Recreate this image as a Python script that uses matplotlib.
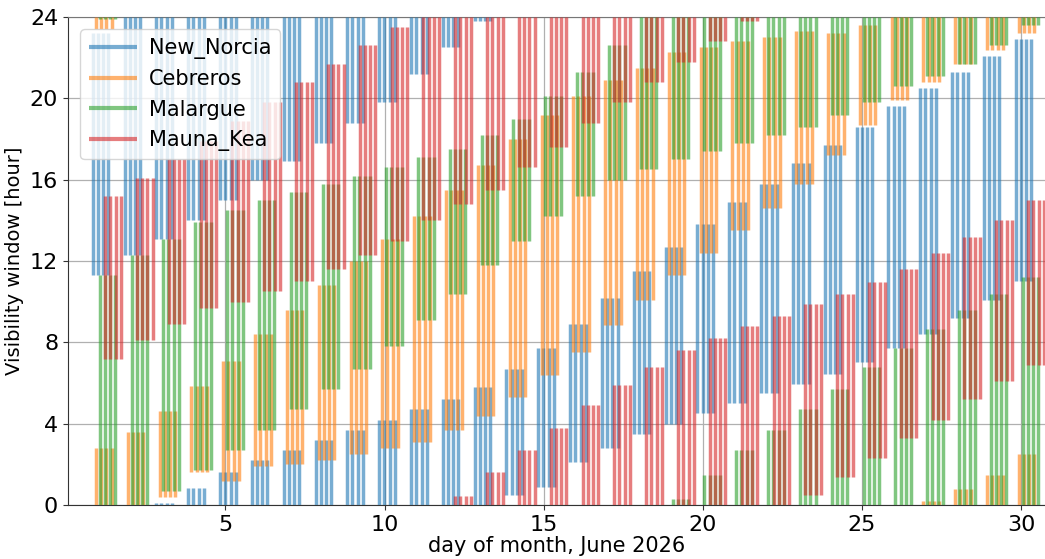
import numpy as np
import matplotlib
matplotlib.use("Agg")
from matplotlib import pyplot as plt

days = np.arange(1, 31)
stations = ['New_Norcia', 'Cebreros', 'Malargue', 'Mauna_Kea']
colors = ['tab:blue', 'tab:orange', 'tab:green', 'tab:red']

# start / end hour of the visibility window for each day of June 2026.
# end < start means the window runs over midnight.
norcia_start = [11.3, 12.3, 13.1, 14.0, 15.0, 16.0, 16.9, 17.8, 18.8, 19.8,
                21.2, 22.5, 23.8, 0.5, 0.9, 2.1, 2.8, 3.5, 4.0, 4.5,
                5.0, 5.5, 5.95, 6.45, 7.05, 7.7, 8.4, 9.2, 10.1, 11.0]
norcia_end = [23.2, 24.0, 0.1, 0.85, 1.6, 2.2, 2.7, 3.2, 3.7, 4.2,
              4.7, 5.2, 5.8, 6.7, 7.7, 8.9, 10.2, 11.5, 12.7, 13.8,
              14.9, 15.8, 16.8, 17.7, 18.6, 19.6, 20.5, 21.3, 22.1, 22.9]

cebreros_start = [23.4, 0.0, 0.4, 1.6, 1.2, 1.9, 2.0, 2.2, 2.5, 2.8,
                  3.1, 3.7, 4.4, 5.3, 6.4, 7.5, 8.85, 10.1, 11.3, 12.4,
                  13.5, 14.6, 15.8, 17.2, 18.7, 19.9, 20.8, 21.7, 22.4, 23.2]
cebreros_end = [2.8, 3.6, 4.6, 5.85, 7.1, 8.4, 9.6, 10.8, 12.0, 13.1,
                14.2, 15.5, 16.7, 18.0, 19.2, 20.1, 20.9, 21.5, 22.3, 22.5,
                22.8, 23.0, 23.3, 23.2, 23.6, 24.0, 0.2, 0.8, 1.5, 2.5]

malargue_start = [23.9, 0.0, 0.7, 1.7, 2.7, 3.7, 4.7, 5.7, 6.7, 7.8,
                  9.1, 10.4, 11.8, 13.0, 14.2, 15.2, 16.0, 16.5, 17.0, 17.4,
                  17.8, 18.2, 18.6, 19.2, 19.8, 20.6, 21.1, 21.7, 22.6, 23.6]
malargue_end = [11.3, 12.3, 13.1, 13.9, 14.5, 15.0, 15.4, 15.8, 16.2, 16.6,
                17.1, 17.5, 18.2, 19.0, 20.1, 21.3, 22.6, 24.0, 0.3, 1.5,
                2.7, 3.7, 4.7, 5.7, 6.8, 7.7, 8.65, 9.6, 10.4, 11.2]

maunakea_start = [7.2, 8.1, 8.9, 9.7, 10.0, 10.5, 11.0, 11.6, 12.3, 13.0,
                  14.0, 14.8, 15.5, 16.6, 17.6, 18.8, 19.8, 20.8, 21.8, 22.8,
                  23.8, 0.0, 0.5, 1.4, 2.3, 3.3, 4.2, 5.2, 6.1, 6.9]
maunakea_end = [15.2, 16.1, 17.0, 17.9, 18.9, 19.8, 20.8, 21.7, 22.6, 23.5,
                24.0, 0.45, 1.6, 2.7, 3.8, 4.9, 5.9, 6.8, 7.6, 8.2,
                8.8, 9.3, 9.9, 10.4, 10.95, 11.6, 12.4, 13.2, 14.0, 15.0]

starts = [norcia_start, cebreros_start, malargue_start, maunakea_start]
ends = [norcia_end, cebreros_end, malargue_end, maunakea_end]

# each station gets its own slot inside a day, four samples per day
station_dx = [-0.17, -0.07, 0.05, 0.22]
sample_dx = [0.0, 0.16, 0.33, 0.49]


def segments(x, t0, t1):
    if t1 >= t0:
        return [(x, t0, t1)]
    return [(x, t0, 24.0), (x, 0.0, t1)]


fig = plt.figure(figsize=(10.45, 5.59), dpi=100)
ax = fig.add_axes([0.065, 0.0966, 0.935, 0.873])

for s in range(4):
    xs, lo, hi = [], [], []
    for d, t0, t1 in zip(days, starts[s], ends[s]):
        for dx in sample_dx:
            for x, a, b in segments(d + station_dx[s] + dx, t0, t1):
                xs.append(x)
                lo.append(a)
                hi.append(b)
    ax.vlines(xs, lo, hi, colors=colors[s], lw=2.5, alpha=0.6,
              capstyle='butt', label=stations[s], zorder=3)

ax.set_xlim(0.05, 30.75)
ax.set_ylim(0, 24)
ax.set_yticks(range(0, 25, 4))
ax.set_xticks(range(5, 31, 5))
ax.tick_params(labelsize=16, colors='#333333', labelcolor='black')
ax.grid(True, color='#b0b0b0', lw=0.9)
ax.set_axisbelow(True)
for side in ['left', 'bottom']:
    ax.spines[side].set_color('#333333')
ax.spines['top'].set_color('#777777')
ax.spines['right'].set_visible(False)

ax.set_xlabel('day of month, June 2026', fontsize=15, labelpad=1)
ax.set_ylabel('Visibility window [hour]', fontsize=14)
leg = ax.legend(loc='upper left', fontsize=15, handlelength=2.3,
                handletextpad=0.6, borderaxespad=0.6)
for h in leg.get_lines():
    h.set_linewidth(3)

fig.savefig('out.png', dpi=100)
